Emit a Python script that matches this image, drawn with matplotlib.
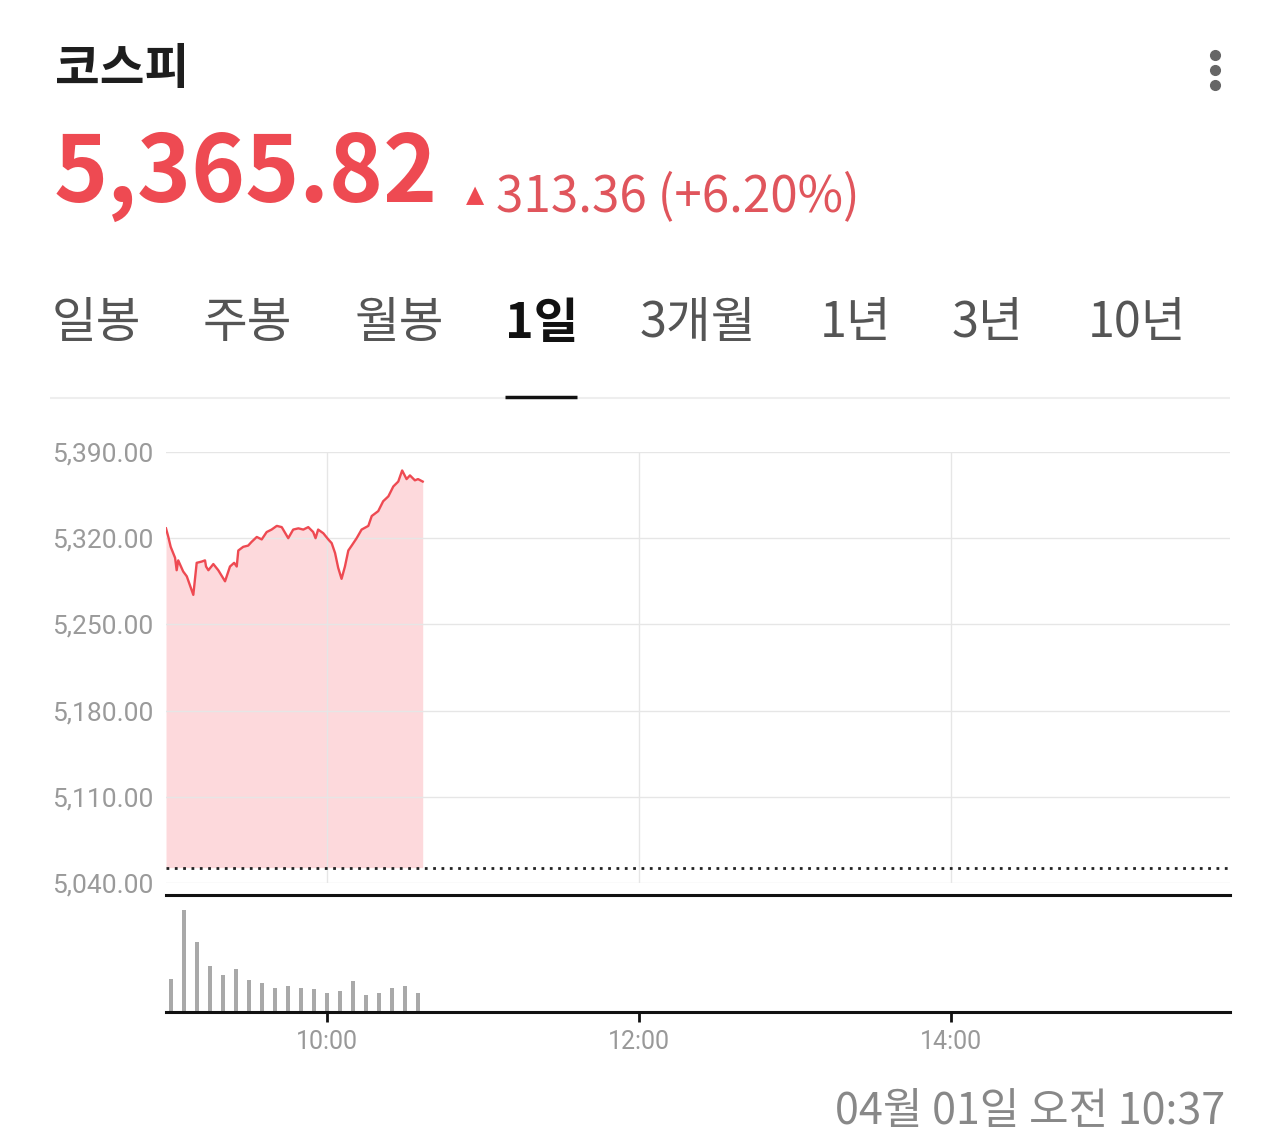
import numpy as np
import matplotlib
matplotlib.use("Agg")
import matplotlib.pyplot as plt

plt.rcParams['font.family'] = ['Noto Sans CJK KR', 'DejaVu Sans']

# ---- data (minutes after 09:00) ----
price_t = [-1.8, -0.9, 0, 1.7, 2.3, 2.9, 4.8, 6.2, 8.7, 10.0, 11.9, 13.2, 13.6, 14.5, 16.4,
           18.3, 20.9, 22.8, 24.4, 25.4, 26.0, 27.9, 29.8, 31.1, 33.1, 35.0, 36.9, 38.8,
           40.8, 42.7, 45.2, 47.1, 49.1, 51.0, 52.9, 54.8, 55.7, 56.7, 58.7, 60.6, 61.9,
           63.2, 64.4, 65.7, 67.0, 68.3, 69.6, 71.5, 73.4, 76.0, 77.3, 79.8, 81.7, 83.7,
           85.6, 87.5, 89.0, 90.7, 92.0, 93.9, 95.1, 96.9]
price = [5328, 5321, 5313, 5304, 5294, 5302, 5293, 5289, 5274, 5300, 5301, 5302, 5297, 5294, 5299,
         5294, 5285, 5297, 5300, 5297, 5310, 5313, 5314, 5317, 5321, 5319, 5325, 5327,
         5330, 5329, 5320, 5327, 5328, 5327, 5329, 5325, 5320, 5327, 5324, 5319, 5316,
         5308, 5296, 5287, 5297, 5310, 5314, 5320, 5327, 5330, 5338, 5342, 5350, 5354,
         5362, 5366, 5375, 5368, 5371, 5367, 5368, 5366]
prev_close = 5052.46

vol_t = list(range(0, 100, 5))
volume = [100, 305, 208, 137, 110, 129, 96, 86, 73, 77, 73, 68, 58, 64, 92, 50, 58, 73, 77, 58]

y_ticks = [5040, 5110, 5180, 5250, 5320, 5390]
x_ticks = [60, 180, 300]
x_labels = ["10:00", "12:00", "14:00"]

tabs = ["일봉", "주봉", "월봉", "1일", "3개월", "1년", "3년", "10년"]
tab_x = [52, 203, 355, 505, 640, 820, 952, 1088]

RED = "#ee4a52"
W, H = 1280, 1135
XMIN, XMAX = -1.8, 407.3

fig = plt.figure(figsize=(W / 100, H / 100), dpi=100)

# overlay in pixel coordinates for header / tabs / footer
ov = fig.add_axes([0, 0, 1, 1])
ov.set_xlim(0, W)
ov.set_ylim(H, 0)
ov.axis("off")

ov.text(55, 70, "코스피", fontsize=35, fontweight="bold", color="#1e1e1e", va="center", ha="left")
ov.text(54, 202, "5,365.82", fontsize=66, fontweight="bold", color=RED, va="baseline", ha="left")
ov.text(475, 202, "▲", fontsize=17, color=RED, va="baseline", ha="center", family=["DejaVu Sans"])
ov.text(496, 211, "313.36 (+6.20%)", fontsize=35.5, color="#e0555c", va="baseline", ha="left")
for yy in (55, 70, 85):
    ov.plot(1215, yy, "o", ms=7, color="#666666")

for lab, xx in zip(tabs, tab_x):
    sel = lab == "1일"
    ov.text(xx, 323, lab, fontsize=35, fontweight="bold" if sel else "normal",
            color="#111111" if sel else "#555555", va="center", ha="left")
ov.plot([50, 1230], [398, 398], color="#eeeeee", lw=1.5, solid_capstyle="butt")
ov.plot([505, 577], [397, 397], color="#111111", lw=2.5, solid_capstyle="butt")

ov.text(1225, 1112, "04월 01일 오전 10:37", fontsize=31, color="#888888", va="center", ha="right")

# ---- price panel ----
x0, x1 = 166, 1230
ax = fig.add_axes([x0 / W, 1 - 883 / H, (x1 - x0) / W, (883 - 452) / H])
ax.patch.set_alpha(0)
ax.set_xlim(XMIN, XMAX)
ax.set_ylim(5040, 5390)
ax.fill_between(price_t, price, prev_close, color="#fdd3d6", alpha=0.85, lw=0, zorder=1)
ax.plot(price_t, price, color=RED, lw=1.7, zorder=3)
ax.axhline(prev_close, color="#222222", lw=2, linestyle=(0, (1, 2)), zorder=4)
ax.set_yticks(y_ticks)
ax.set_yticklabels([f"{v:,.2f}" for v in y_ticks], family=["Roboto", "DejaVu Sans"],
                   fontsize=19, color="#9a9a9a")
ax.set_xticks(x_ticks)
ax.set_xticklabels([])
ax.tick_params(length=0, pad=9)
ax.grid(True, color="#e6e6e6", lw=1, zorder=2)
ax.set_axisbelow(False)
for s in ax.spines.values():
    s.set_visible(False)

# ---- volume panel ----
vx = fig.add_axes([x0 / W, 1 - 1012 / H, (x1 - x0) / W, (1012 - 895) / H])
vx.set_xlim(XMIN, XMAX)
vx.set_ylim(0, 350)
vx.bar(vol_t, volume, width=1.6, color="#a9a9a9")
vx.set_yticks([])
vx.set_xticks(x_ticks)
vx.set_xticklabels(x_labels, family=["Roboto", "DejaVu Sans"], fontsize=18, color="#999999")
vx.tick_params(axis="x", length=7, width=2, color="#111111", pad=6)
for side in ("left", "right"):
    vx.spines[side].set_visible(False)
for side in ("top", "bottom"):
    vx.spines[side].set_linewidth(2.2)
    vx.spines[side].set_color("#111111")

fig.savefig("out.png", dpi=100)
